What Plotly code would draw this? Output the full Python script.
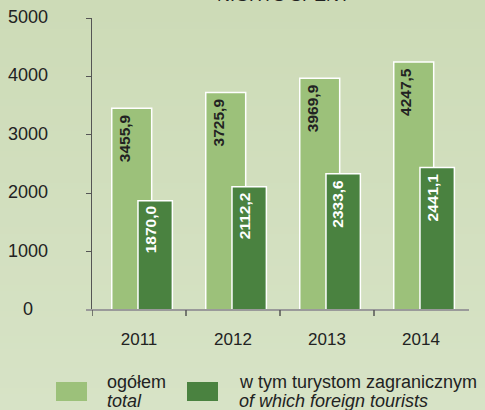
import base64
import struct
import zlib

import plotly.graph_objects as go

# Nights spent, thousands
years = ["2011", "2012", "2013", "2014"]
total = [3455.9, 3725.9, 3969.9, 4247.5]
foreign = [1870.0, 2112.2, 2333.6, 2441.1]
y_ticks = [0, 1000, 2000, 3000, 4000, 5000]

LIGHT = "#9cc17a"
DARK = "#4a8240"
FONT = "Arial, Liberation Sans, sans-serif"

W, H = 485, 410
L, R, T, B = 92, 17, 18, 100
PW, PH = W - L - R, H - T - B


def px_x(px):
    return (px - L) / PW


def px_y(py):
    return (H - B - py) / PH


def fmt(v):
    return f"{v:.1f}".replace(".", ",")


def gradient_png(top, bottom, h):
    rows = b""
    for i in range(h):
        t = i / (h - 1)
        rgb = bytes(round(a + (b - a) * t) for a, b in zip(top, bottom))
        rows += b"\x00" + rgb
    def chunk(tag, data):
        c = struct.pack(">I", len(data)) + tag + data
        return c + struct.pack(">I", zlib.crc32(tag + data) & 0xFFFFFFFF)
    png = b"\x89PNG\r\n\x1a\n"
    png += chunk(b"IHDR", struct.pack(">IIBBBBB", 1, h, 8, 2, 0, 0, 0))
    png += chunk(b"IDAT", zlib.compress(rows))
    png += chunk(b"IEND", b"")
    return "data:image/png;base64," + base64.b64encode(png).decode()


fig = go.Figure()
fig.add_trace(go.Bar(
    x=years, y=total, name="ogółem",
    offset=-0.29, width=0.425,
    marker=dict(color=LIGHT, line=dict(color="white", width=1.5)),
    hoverinfo="skip",
))
fig.add_trace(go.Bar(
    x=years, y=foreign, name="w tym turystom zagranicznym",
    offset=-0.011, width=0.366,
    marker=dict(color=DARK, line=dict(color="white", width=1.5)),
    hoverinfo="skip",
))

annotations = []
# value labels, rotated, near the top of each bar
for i, v in enumerate(total):
    annotations.append(dict(
        x=i, y=v, xref="x", yref="y", text=fmt(v), textangle=-90,
        showarrow=False, xanchor="center", yanchor="top", xshift=-15, yshift=-4,
        font=dict(family=FONT, size=15.5, color="#222222", weight="bold"),
    ))
for i, v in enumerate(foreign):
    annotations.append(dict(
        x=i, y=v, xref="x", yref="y", text=fmt(v), textangle=-90,
        showarrow=False, xanchor="center", yanchor="top", xshift=11, yshift=-4,
        font=dict(family=FONT, size=15.5, color="white", weight="bold"),
    ))
# y tick labels, centred in the left margin
for v in y_ticks:
    annotations.append(dict(
        x=px_x(27.5), y=v, xref="paper", yref="y", text=str(v),
        showarrow=False, xanchor="center", yanchor="middle", yshift=1,
        font=dict(family=FONT, size=18, color="#222222"),
    ))
# title, running off the top edge
annotations.append(dict(
    x=px_x(283), y=px_y(7), xref="paper", yref="paper", text="NIGHTS SPENT",
    showarrow=False, xanchor="center", yanchor="bottom",
    font=dict(family=FONT, size=18, color="#222222"),
))
# legend text
legend_items = [
    (105, "ogółem", "total"),
    (237, "w tym turystom zagranicznym", "of which foreign tourists"),
]
for x0, pl, en in legend_items:
    annotations.append(dict(
        x=px_x(x0), y=px_y(382), xref="paper", yref="paper", text=pl,
        showarrow=False, xanchor="left", yanchor="middle",
        font=dict(family=FONT, size=18, color="#222222"),
    ))
    annotations.append(dict(
        x=px_x(x0), y=px_y(401), xref="paper", yref="paper", text=f"<i>{en}</i>",
        showarrow=False, xanchor="left", yanchor="middle",
        font=dict(family=FONT, size=18, color="#222222"),
    ))

shapes = [
    # x axis baseline
    dict(type="line", xref="paper", yref="paper", x0=px_x(86), x1=px_x(469),
         y0=0, y1=0, line=dict(color="#9a9a9a", width=2)),
    # legend swatches
    dict(type="rect", xref="paper", yref="paper", x0=px_x(56), x1=px_x(87),
         y0=px_y(382), y1=px_y(401), fillcolor=LIGHT, line=dict(width=0)),
    dict(type="rect", xref="paper", yref="paper", x0=px_x(187), x1=px_x(218),
         y0=px_y(382), y1=px_y(401), fillcolor=DARK, line=dict(width=0)),
]
# x ticks on the category boundaries (left of each year)
for i in range(len(years)):
    shapes.append(dict(
        type="line", xref="x", yref="paper", x0=i - 0.5, x1=i - 0.5,
        y0=0, y1=-6 / PH, line=dict(color="#555555", width=1.5),
    ))

fig.update_layout(
    width=W, height=H,
    margin=dict(l=L, r=R, t=T, b=B, pad=0),
    barmode="overlay",
    showlegend=False,
    paper_bgcolor="#d2dfbe",
    plot_bgcolor="rgba(0,0,0,0)",
    font=dict(family=FONT, size=18, color="#222222"),
    annotations=annotations,
    shapes=shapes,
    images=[dict(
        source=gradient_png((205, 219, 183), (215, 227, 198), 64),
        xref="paper", yref="paper", x=px_x(0), y=px_y(0),
        sizex=W / PW, sizey=H / PH, sizing="stretch",
        xanchor="left", yanchor="top", layer="below",
    )],
    xaxis=dict(
        type="category", range=[-0.5, 3.5],
        showline=False, showgrid=False, zeroline=False,
        ticks="", ticklen=6,
        tickfont=dict(family=FONT, size=17, color="#222222"),
        ticklabelstandoff=17,
    ),
    yaxis=dict(
        range=[0, 5000], tickvals=y_ticks, showticklabels=False,
        showline=True, linecolor="#555555", linewidth=1,
        ticks="outside", ticklen=5, tickwidth=1, tickcolor="#555555",
        showgrid=False, zeroline=False,
    ),
)

fig.write_html("out.html")
